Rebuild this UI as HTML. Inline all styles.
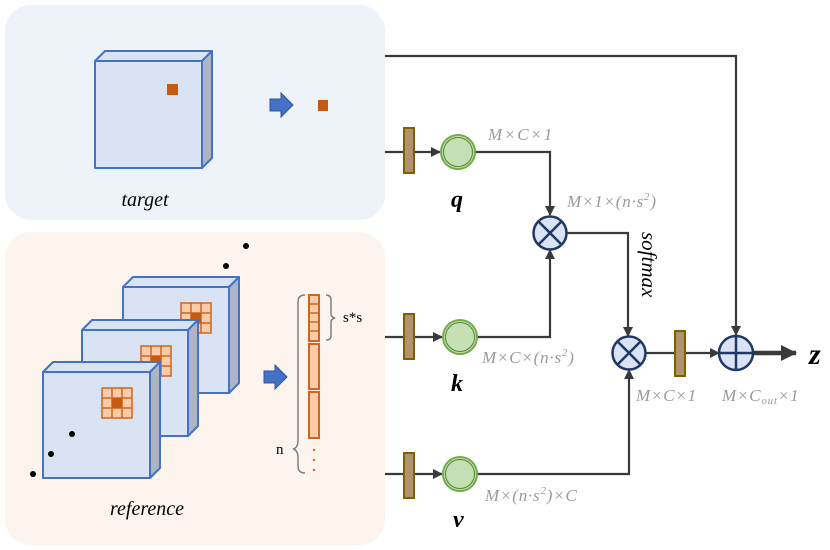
<!DOCTYPE html>
<html><head><meta charset="utf-8"><style>
html,body{margin:0;padding:0;background:#fff;}
svg{display:block;}
.lab{font-family:"Liberation Serif",serif;font-style:italic;font-size:17px;letter-spacing:0.8px;fill:#9a9a9a;}
.big{font-family:"Liberation Serif",serif;font-style:italic;font-weight:bold;font-size:24px;fill:#000;}
</style></head><body>
<svg width="830" height="550" viewBox="0 0 830 550" xmlns="http://www.w3.org/2000/svg">
<defs>
<marker id="ar" markerWidth="10" markerHeight="10" refX="9" refY="5" orient="auto" markerUnits="userSpaceOnUse">
<path d="M0,0 L10,5 L0,10 z" fill="#3a3a3a"/></marker>
<marker id="arb" markerWidth="16" markerHeight="16" refX="15" refY="8" orient="auto" markerUnits="userSpaceOnUse">
<path d="M0,0 L16,8 L0,16 z" fill="#3a3a3a"/></marker>
<g id="grid">
<rect x="0" y="0" width="30" height="30" fill="#f8cba9" stroke="#d0661e" stroke-width="1.5"/>
<path d="M10,0V30M20,0V30M0,10H30M0,20H30" stroke="#d0661e" stroke-width="1.5"/>
<rect x="10" y="10" width="10" height="10" fill="#c55a11"/>
</g>
</defs>
<rect x="5" y="5" width="380" height="215" rx="26" fill="#eef3fa"/>
<rect x="5" y="232" width="380" height="313" rx="26" fill="#fdf4ee"/>

<g stroke="#4472c4" stroke-width="2" stroke-linejoin="round">
<polygon points="95,61 105,51 212,51 202,61" fill="#dae3f3"/>
<polygon points="202,61 212,51 212,158 202,168" fill="#adb5c4"/>
<rect x="95" y="61" width="107" height="107" fill="#dae3f3"/>
</g>
<rect x="167" y="84" width="11" height="11" fill="#c55a11"/>
<polygon points="270,99 281,99 281,93 293,105 281,117 281,111 270,111" fill="#4472c4" stroke="#2f5597" stroke-width="1"/>
<rect x="318" y="100" width="10" height="11" fill="#c55a11"/>
<text x="145" y="206" font-family="Liberation Serif,serif" font-style="italic" font-size="20" fill="#000" text-anchor="middle">target</text>

<g stroke="#4472c4" stroke-width="2" stroke-linejoin="round">
<polygon points="123,287 133,277 239,277 229,287" fill="#dae3f3"/>
<polygon points="229,287 239,277 239,383 229,393" fill="#adb5c4"/>
<rect x="123" y="287" width="106" height="106" fill="#dae3f3"/>
</g>
<use href="#grid" x="181" y="303"/>
<g stroke="#4472c4" stroke-width="2" stroke-linejoin="round">
<polygon points="82,330 92,320 198,320 188,330" fill="#dae3f3"/>
<polygon points="188,330 198,320 198,426 188,436" fill="#adb5c4"/>
<rect x="82" y="330" width="106" height="106" fill="#dae3f3"/>
</g>
<use href="#grid" x="141" y="346"/>
<g stroke="#4472c4" stroke-width="2" stroke-linejoin="round">
<polygon points="43,372 53,362 160,362 150,372" fill="#dae3f3"/>
<polygon points="150,372 160,362 160,468 150,478" fill="#adb5c4"/>
<rect x="43" y="372" width="107" height="106" fill="#dae3f3"/>
</g>
<use href="#grid" x="102" y="388"/>
<g fill="#000"><circle cx="33" cy="474" r="3"/><circle cx="51" cy="454" r="3"/><circle cx="72" cy="434" r="3"/><circle cx="226" cy="266" r="3"/><circle cx="246" cy="246" r="3"/></g>
<polygon points="264,371 275,371 275,365 287,377 275,389 275,383 264,383" fill="#4472c4" stroke="#2f5597" stroke-width="1"/>
<g stroke="#d0661e" stroke-width="2" fill="#f8cba9">
<rect x="309" y="295" width="10" height="46"/>
<rect x="309" y="344" width="10" height="45"/>
<rect x="309" y="392" width="10" height="46"/>
</g>
<path d="M309,304H319M309,313H319M309,322H319M309,331H319" stroke="#d0661e" stroke-width="1.5"/>
<g fill="#d0661e"><circle cx="314" cy="450" r="1.2"/><circle cx="314" cy="460" r="1.2"/><circle cx="314" cy="470" r="1.2"/></g>
<path d="M305,295 Q298,295 298,302 V440 Q298,448 293,449 Q298,450 298,458 V466 Q298,473 305,473" fill="none" stroke="#808080" stroke-width="1.5"/>
<path d="M326,295 Q331,295 331,300 V314 Q331,317 335,318 Q331,319 331,322 V336 Q331,340 326,340" fill="none" stroke="#808080" stroke-width="1.5"/>
<text x="276" y="454" font-family="Liberation Serif,serif" font-size="15" fill="#000">n</text>
<text x="343" y="322" font-family="Liberation Serif,serif" font-size="15" fill="#000">s*s</text>
<text x="147" y="515" font-family="Liberation Serif,serif" font-style="italic" font-size="20" fill="#000" text-anchor="middle">reference</text>

<g stroke="#3a3a3a" stroke-width="2.2" fill="none">
<path d="M385,56 H736 V335" marker-end="url(#ar)"/>
<path d="M385,152 H440" marker-end="url(#ar)"/>
<path d="M385,337 H442" marker-end="url(#ar)"/>
<path d="M385,474 H442" marker-end="url(#ar)"/>
<path d="M475,152 H550 V215" marker-end="url(#ar)"/>
<path d="M477,337 H550 V250" marker-end="url(#ar)"/>
<path d="M567,233 H628 V336" marker-end="url(#ar)"/>
<path d="M477,474 H629 V370" marker-end="url(#ar)"/>
<path d="M645,353 H719" marker-end="url(#ar)"/>
</g>
<path d="M753,353 H796" stroke="#3a3a3a" stroke-width="4.5" marker-end="url(#arb)"/>
<g fill="#b0926e" stroke="#7f6000" stroke-width="2">
<rect x="404" y="128" width="10" height="45"/>
<rect x="404" y="314" width="10" height="45"/>
<rect x="404" y="453" width="10" height="45"/>
<rect x="675" y="331" width="10" height="45"/>
</g>
<g fill="#c5e0b4" stroke="#70ad47" stroke-width="2">
<circle cx="458" cy="152" r="17"/><circle cx="460" cy="337" r="17"/><circle cx="460" cy="474" r="17"/>
</g>
<g fill="none" stroke="#548235" stroke-width="1"><circle cx="458" cy="152" r="14.5"/><circle cx="460" cy="337" r="14.5"/><circle cx="460" cy="474" r="14.5"/></g>
<g fill="#dae3f3" stroke="#1f3864" stroke-width="2.5">
<circle cx="550" cy="233" r="16.5"/><circle cx="629" cy="353" r="16.5"/><circle cx="736" cy="353" r="17"/>
</g>
<g stroke="#1f3864" stroke-width="2.5">
<path d="M538.3,221.3L561.7,244.7M561.7,221.3L538.3,244.7"/>
<path d="M617.3,341.3L640.7,364.7M640.7,341.3L617.3,364.7"/>
<path d="M736,336V370M719,353H753"/>
</g>
<text class="lab" x="488" y="140" textLength="65">M×C×1</text>
<text class="lab" x="567" y="207">M×1×(n·s<tspan font-size="11" dy="-7">2</tspan><tspan dy="7">)</tspan></text>
<text class="lab" x="482" y="363">M×C×(n·s<tspan font-size="11" dy="-7">2</tspan><tspan dy="7">)</tspan></text>
<text class="lab" x="636" y="401">M×C×1</text>
<text class="lab" x="722" y="401">M×C<tspan font-size="11" dy="3">out</tspan><tspan dy="-3">×1</tspan></text>
<text class="lab" x="485" y="501">M×(n·s<tspan font-size="11" dy="-7">2</tspan><tspan dy="7">)×C</tspan></text>
<text x="642" y="232" font-family="Liberation Serif,serif" font-style="italic" font-size="21" fill="#000" transform="rotate(90 642 232)">softmax</text>
<text class="big" x="451" y="207">q</text>
<text class="big" x="451" y="391">k</text>
<text class="big" x="453" y="527">v</text>
<text x="809" y="364" font-family="Liberation Serif,serif" font-style="italic" font-weight="bold" font-size="30" fill="#000">z</text>
</svg>
</body></html>
